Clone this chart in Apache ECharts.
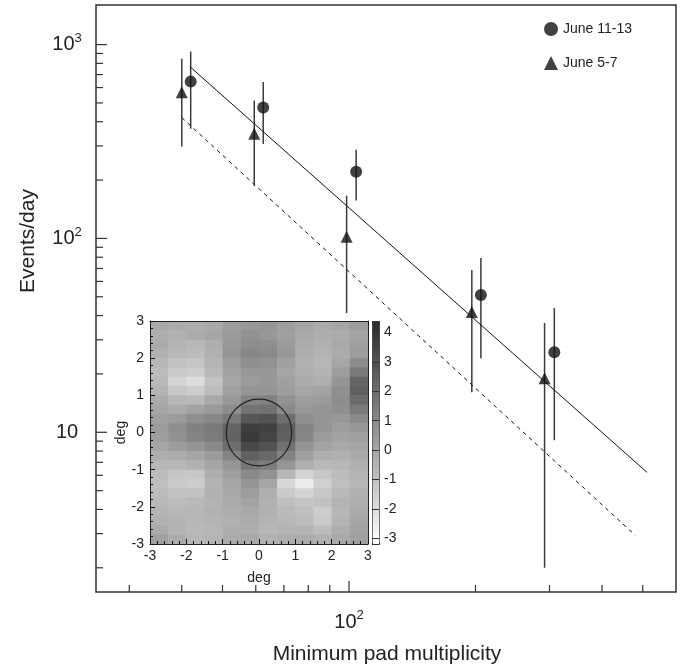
<!DOCTYPE html>
<html>
<head>
<meta charset="utf-8">
<script src="https://cdn.jsdelivr.net/npm/echarts@6/dist/echarts.min.js"></script>
<style>html,body{margin:0;padding:0;background:#fff}#main{width:680px;height:669px}</style>
</head>
<body>
<div id="main"></div>
<script>
// June 11-13 (circles)
const circX = [42, 62.5, 104, 206, 308];
const circY = [644, 474, 221, 51, 25.9];
const circLo = [368, 307, 157, 24.1, 9.1];
const circHi = [920, 642, 287, 79.3, 43.7];
// June 5-7 (triangles)
const triX = [40, 59.5, 98.7, 196, 292];
const triY = [568, 347, 102, 41.7, 19.0];
const triLo = [298, 187, 41.2, 16.1, 2.0];
const triHi = [844, 515, 166, 68.7, 36.6];
// power law fits
const fitSolidX = [41.8, 512];
const fitSolidY = [770, 6.21];
const fitDashX = [40, 480];
const fitDashY = [420, 2.94];
// log axis ticks
const xMajor = [100];
const xMinor = [30, 40, 50, 60, 70, 80, 90, 200, 300, 400, 500];
const yMajor = [10, 100, 1000];
const yMinor = [2, 3, 4, 5, 6, 7, 8, 9, 20, 30, 40, 50, 60, 70, 80, 90, 200, 300, 400, 500, 600, 700, 800, 900];
// inset map, rows from +3 deg (top) down to -3 deg, columns from -3 to +3 deg
const mapRows = [
  [-0.1, -0.2, -0.3, -0.1, 0.3, 0.5, 0.6, 0.3, 0.0, -0.2, 0.0, 0.3],
  [-0.3, -0.4, -0.2, 0.0, 0.4, 0.7, 0.5, 0.2, -0.1, -0.3, -0.2, 0.1],
  [-0.2, -0.5, -0.6, -0.3, 0.5, 0.9, 0.8, 0.4, -0.2, -0.4, -0.1, 0.2],
  [-0.4, -0.7, -0.8, -0.4, 0.6, 1.1, 1.0, 0.5, -0.3, -0.5, -0.2, 0.3],
  [-0.6, -1.0, -1.1, -0.5, 0.3, 0.8, 0.7, 0.2, -0.4, -0.6, 0.0, 0.9],
  [-0.8, -1.3, -1.4, -0.7, 0.1, 0.5, 0.5, 0.0, -0.3, -0.5, 0.3, 1.6],
  [-0.7, -1.6, -2.0, -1.0, 0.0, 0.4, 0.5, 0.2, -0.2, -0.3, 0.6, 2.3],
  [-0.5, -1.2, -1.4, -0.8, 0.2, 0.6, 0.6, 0.3, 0.0, 0.1, 0.8, 2.5],
  [-0.2, -0.6, -0.7, -0.1, 0.5, 1.2, 1.3, 0.7, 0.3, 0.4, 0.9, 2.1],
  [0.0, -0.2, 0.1, 0.4, 0.9, 1.8, 1.9, 1.0, 0.5, 0.6, 0.8, 1.6],
  [0.2, 0.4, 0.8, 1.1, 1.6, 2.8, 3.0, 2.0, 0.8, 0.6, 0.5, 1.0],
  [0.4, 0.8, 1.3, 1.6, 2.3, 3.7, 3.6, 2.6, 1.2, 0.6, 0.3, 0.5],
  [0.3, 0.7, 1.2, 1.5, 2.4, 3.9, 3.5, 2.5, 1.1, 0.4, 0.1, 0.2],
  [0.0, 0.3, 0.6, 1.0, 2.0, 3.3, 3.0, 1.9, 0.6, 0.1, -0.1, 0.0],
  [-0.3, -0.2, 0.0, 0.4, 1.2, 2.5, 2.2, 1.3, 0.2, -0.3, -0.4, -0.2],
  [-0.6, -0.6, -0.4, 0.0, 0.6, 1.7, 1.5, 0.6, -0.3, -0.7, -0.6, -0.4],
  [-0.8, -1.1, -1.2, -0.3, 0.2, 1.0, 0.7, -0.6, -1.6, -1.2, -0.8, -0.5],
  [-0.9, -1.3, -1.4, -0.5, 0.0, 0.6, 0.0, -1.8, -2.5, -1.5, -0.9, -0.6],
  [-0.8, -1.0, -1.0, -0.4, -0.1, 0.3, -0.3, -1.3, -1.7, -1.2, -0.7, -0.4],
  [-0.7, -0.8, -0.7, -0.5, -0.2, 0.1, -0.4, -0.9, -1.1, -1.0, -0.5, -0.3],
  [-0.5, -0.6, -0.6, -0.4, -0.3, -0.1, -0.4, -0.7, -0.9, -1.4, -0.6, -0.2],
  [-0.4, -0.5, -0.6, -0.5, -0.4, -0.2, -0.5, -0.6, -0.8, -1.3, -0.5, 0.0],
  [-0.2, -0.5, -0.7, -0.6, -0.3, -0.3, -0.6, -0.5, -0.5, -0.8, -0.3, 0.1],
  [0.2, -0.2, -0.6, -0.5, -0.2, -0.1, -0.4, -0.3, -0.2, -0.4, -0.1, 0.2]
];
const ringCenter = [0, 0];
const ringRadius = 0.9;
const zMin = -3.19, zMax = 4.39;

const FONT = 'Liberation Sans, Arial, sans-serif';
const INK = '#222';

const nRows = mapRows.length, nCols = mapRows[0].length;
const cw = 6 / nCols, ch = 6 / nRows;
const mapData = [];
mapRows.forEach((row, r) => row.forEach((v, c) => {
  mapData.push([-3 + (c + 0.5) * cw, 3 - (r + 0.5) * ch, v]);
}));

const powLabel = v => {
  const l = Math.log10(v), e = Math.round(l);
  if (Math.abs(l - e) > 1e-6) return '';
  if (e === 1) return '{b|10}';
  return '{b|10}{s|' + e + '}';
};
const powRich = {
  b: {fontSize: 20, lineHeight: 26, color: INK, fontFamily: FONT},
  s: {fontSize: 13, lineHeight: 12, verticalAlign: 'top', color: INK, fontFamily: FONT}
};

const errBars = (xs, ys, lo, hi) => ({
  type: 'custom', xAxisIndex: 0, yAxisIndex: 0, silent: true, z: 3,
  data: xs.map((x, i) => [x, ys[i], lo[i], hi[i]]),
  encode: {x: 0, y: 1},
  renderItem: (params, api) => {
    const a = api.coord([api.value(0), api.value(2)]);
    const b = api.coord([api.value(0), api.value(3)]);
    return {type: 'line', shape: {x1: a[0], y1: a[1], x2: b[0], y2: b[1]},
      style: {stroke: '#3a3a3a', lineWidth: 1.5}};
  }
});

const ticks = (vals, len, dir) => ({
  type: 'custom', xAxisIndex: 0, yAxisIndex: 0, silent: true, z: 5,
  data: vals.map(v => dir === 'x' ? [v, 10] : [100, v]),
  renderItem: (params, api) => {
    const cs = params.coordSys;
    const p = api.coord([api.value(0), api.value(1)]);
    if (dir === 'x') {
      const yb = cs.y + cs.height;
      return {type: 'line', shape: {x1: p[0], y1: yb, x2: p[0], y2: yb - len},
        style: {stroke: '#333', lineWidth: 1.2}};
    }
    return {type: 'line', shape: {x1: cs.x, y1: p[1], x2: cs.x + len, y2: p[1]},
      style: {stroke: '#333', lineWidth: 1.2}};
  }
});

const insetAxisLabel = {fontSize: 14, color: INK, fontFamily: FONT};
const insetLine = {show: true, onZero: false, lineStyle: {color: INK, width: 1}};
const insetTick = {show: true, inside: true, length: 5, lineStyle: {color: '#111', width: 1}};
const insetMinor = {show: true, splitNumber: 5, length: 3, lineStyle: {color: '#111', width: 1}};

const option = {
  animation: false,
  backgroundColor: '#fff',
  textStyle: {fontFamily: FONT},
  grid: [
    {left: 96, top: 5, width: 580, height: 587, show: true, borderColor: '#333', borderWidth: 1.5},
    {left: 150, top: 321, width: 218, height: 223},
    {left: 372, top: 321, width: 7, height: 223}
  ],
  xAxis: [
    {type: 'log', gridIndex: 0, min: 25, max: 600,
      axisLine: {show: false}, axisTick: {show: false}, splitLine: {show: false},
      axisLabel: {interval: 0, margin: 17, formatter: powLabel, rich: powRich}},
    {type: 'value', gridIndex: 1, min: -3, max: 3, interval: 1, position: 'bottom', z: 10,
      axisLine: insetLine, axisTick: insetTick, minorTick: insetMinor,
      splitLine: {show: false},
      axisLabel: Object.assign({margin: 5}, insetAxisLabel),
      name: 'deg', nameLocation: 'middle', nameGap: 27,
      nameTextStyle: {fontSize: 14, color: INK, fontFamily: FONT}},
    {type: 'value', gridIndex: 1, min: -3, max: 3, position: 'top', z: 10,
      axisLine: insetLine,
      axisTick: {show: false}, axisLabel: {show: false}, splitLine: {show: false}},
    {type: 'value', gridIndex: 2, min: 0, max: 1, show: false}
  ],
  yAxis: [
    {type: 'log', gridIndex: 0, min: 1.5, max: 1600,
      axisLine: {show: false}, axisTick: {show: false}, splitLine: {show: false},
      axisLabel: {interval: 0, margin: 29, align: 'center', formatter: powLabel, rich: powRich}},
    {type: 'value', gridIndex: 1, min: -3, max: 3, interval: 1, position: 'left', z: 10,
      axisLine: insetLine, axisTick: insetTick, minorTick: insetMinor,
      splitLine: {show: false},
      axisLabel: Object.assign({margin: 6}, insetAxisLabel),
      name: 'deg', nameLocation: 'middle', nameGap: 13, nameRotate: 90,
      nameTextStyle: {fontSize: 14, color: INK, fontFamily: FONT}},
    {type: 'value', gridIndex: 1, min: -3, max: 3, position: 'right', z: 10,
      axisLine: insetLine,
      axisTick: {show: false}, axisLabel: {show: false}, splitLine: {show: false}},
    {type: 'value', gridIndex: 2, min: zMin, max: zMax, splitNumber: 8, position: 'right', z: 10,
      axisLine: {show: false}, axisTick: {show: false},
      splitLine: {show: true, lineStyle: {color: '#333', width: 1}},
      axisLabel: Object.assign({margin: 5, formatter: v => Math.abs(v - Math.round(v)) < 1e-6 ? String(Math.round(v)) : ''}, insetAxisLabel)}
  ],
  visualMap: {
    type: 'continuous', seriesIndex: 0, dimension: 2, min: zMin, max: zMax,
    left: 372, top: 321, itemWidth: 7, itemHeight: 223, padding: 0,
    calculable: false, hoverLink: false, text: null, showLabel: false,
    borderColor: '#222', borderWidth: 1,
    inRange: {color: ['#ffffff', '#2b2b2b']}
  },
  legend: {
    data: ['June 11-13', 'June 5-7'], orient: 'vertical', left: 544, top: 22,
    itemWidth: 14, itemHeight: 14, itemGap: 20, padding: 0,
    textStyle: {fontSize: 14, color: INK, fontFamily: FONT}
  },
  graphic: [
    {type: 'text', x: 28, y: 241, rotation: Math.PI / 2,
      style: {text: 'Events/day', fontSize: 21, fontFamily: FONT, fill: INK,
        align: 'center', verticalAlign: 'middle', textAlign: 'center', textVerticalAlign: 'middle'}},
    {type: 'text', x: 387, y: 654,
      style: {text: 'Minimum pad multiplicity', fontSize: 21, fontFamily: FONT, fill: INK,
        align: 'center', verticalAlign: 'middle', textAlign: 'center', textVerticalAlign: 'middle'}}
  ],
  series: [
    {type: 'custom', xAxisIndex: 1, yAxisIndex: 1, clip: true, silent: true, z: 1,
      data: mapData,
      encode: {x: 0, y: 1},
      renderItem: (params, api) => {
        const p = api.coord([api.value(0) - cw / 2, api.value(1) + ch / 2]);
        const s = api.size([cw, ch]);
        return {type: 'rect', shape: {x: p[0], y: p[1], width: s[0] + 0.6, height: s[1] + 0.6},
          style: {fill: api.visual('color')}};
      }},
    {type: 'custom', xAxisIndex: 1, yAxisIndex: 1, silent: true, z: 4,
      data: [[ringCenter[0], ringCenter[1], ringRadius]],
      encode: {x: 0, y: 1},
      renderItem: (params, api) => {
        const c = api.coord([api.value(0), api.value(1)]);
        const r = api.size([api.value(2), api.value(2)]);
        return {type: 'ellipse', shape: {cx: c[0], cy: c[1], rx: r[0], ry: r[1]},
          style: {fill: 'none', stroke: '#222', lineWidth: 1.2}};
      }},
    {type: 'line', name: 'fitSolid', xAxisIndex: 0, yAxisIndex: 0, silent: true, showSymbol: false,
      data: fitSolidX.map((x, i) => [x, fitSolidY[i]]),
      lineStyle: {color: '#111', width: 1}},
    {type: 'line', name: 'fitDash', xAxisIndex: 0, yAxisIndex: 0, silent: true, showSymbol: false,
      data: fitDashX.map((x, i) => [x, fitDashY[i]]),
      lineStyle: {color: '#111', width: 1, type: [4, 4]}},
    errBars(circX, circY, circLo, circHi),
    errBars(triX, triY, triLo, triHi),
    {type: 'scatter', name: 'June 11-13', xAxisIndex: 0, yAxisIndex: 0, z: 6,
      symbol: 'circle', symbolSize: 12, itemStyle: {color: '#111'},
      data: circX.map((x, i) => [x, circY[i]])},
    {type: 'scatter', name: 'June 5-7', xAxisIndex: 0, yAxisIndex: 0, z: 6,
      symbol: 'triangle', symbolSize: 12, itemStyle: {color: '#111'},
      data: triX.map((x, i) => [x, triY[i]])},
    ticks(xMajor, 11, 'x'),
    ticks(xMinor, 7, 'x'),
    ticks(yMajor, 11, 'y'),
    ticks(yMinor, 7, 'y')
  ]
};

const chart = echarts.init(document.getElementById('main'), null, {renderer: 'canvas'});
chart.setOption(option);
</script>
</body>
</html>
